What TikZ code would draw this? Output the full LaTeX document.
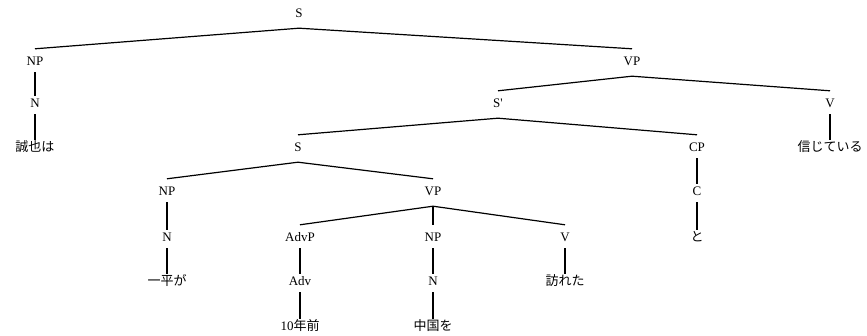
\documentclass[tikz,border=0pt]{standalone}
\usepackage{fontspec}
\setmainfont{Liberation Serif}
\newfontfamily\jp{Noto Sans CJK JP}
\usetikzlibrary{positioning}

\begin{document}
\begin{tikzpicture}[x=1pt, y=-1pt,
    lbl/.style={font=\fontsize{13}{15}\selectfont, text height=8pt,
                text depth=2pt, inner sep=4pt},
    br/.style={line width=1.2pt}]
  \useasboundingbox (0,0) rectangle (867,336);

  % labels, row by row
  \foreach \name/\x/\y/\txt in {S0/299/15/S,
      NP1/35/63/NP, VP1/632/63/VP,
      N1/35/105/N, Sb/498/105/S\textquotesingle, V1/830/105/V,
      W1/35/149/{\jp 誠也は}, S2/298/149/S, CP/697/149/CP, W2/830/149/{\jp 信じている},
      NP2/167/193/NP, VP2/433/193/VP, C/697/193/C,
      N2/167/239/N, AdvP/300/239/AdvP, NP3/433/239/NP, V2/565/239/V, W3/697/239/{\jp と},
      W4/167/283/{\jp 一平が}, Adv/300/283/Adv, N3/433/283/N, W7/565/283/{\jp 訪れた},
      W5/300/328/{10\jp 年前}, W6/433/328/{\jp 中国を}}{
    \node[lbl] (\name) at (\x,\y) {\txt};
  }

  % branching
  \foreach \a/\b in {S0/NP1, S0/VP1, VP1/Sb, VP1/V1, Sb/S2, Sb/CP,
                     S2/NP2, S2/VP2, VP2/AdvP, VP2/NP3, VP2/V2}{
    \draw[br] ([yshift=-4pt]\a.south) -- ([yshift=5pt]\b.north);
  }

  % unary
  \foreach \a/\b in {NP1/N1, N1/W1, V1/W2, CP/C, C/W3, NP2/N2, N2/W4,
                     AdvP/Adv, Adv/W5, NP3/N3, N3/W6, V2/W7}{
    \draw[br] (\a.south) -- (\b.north);
  }
\end{tikzpicture}
\end{document}
